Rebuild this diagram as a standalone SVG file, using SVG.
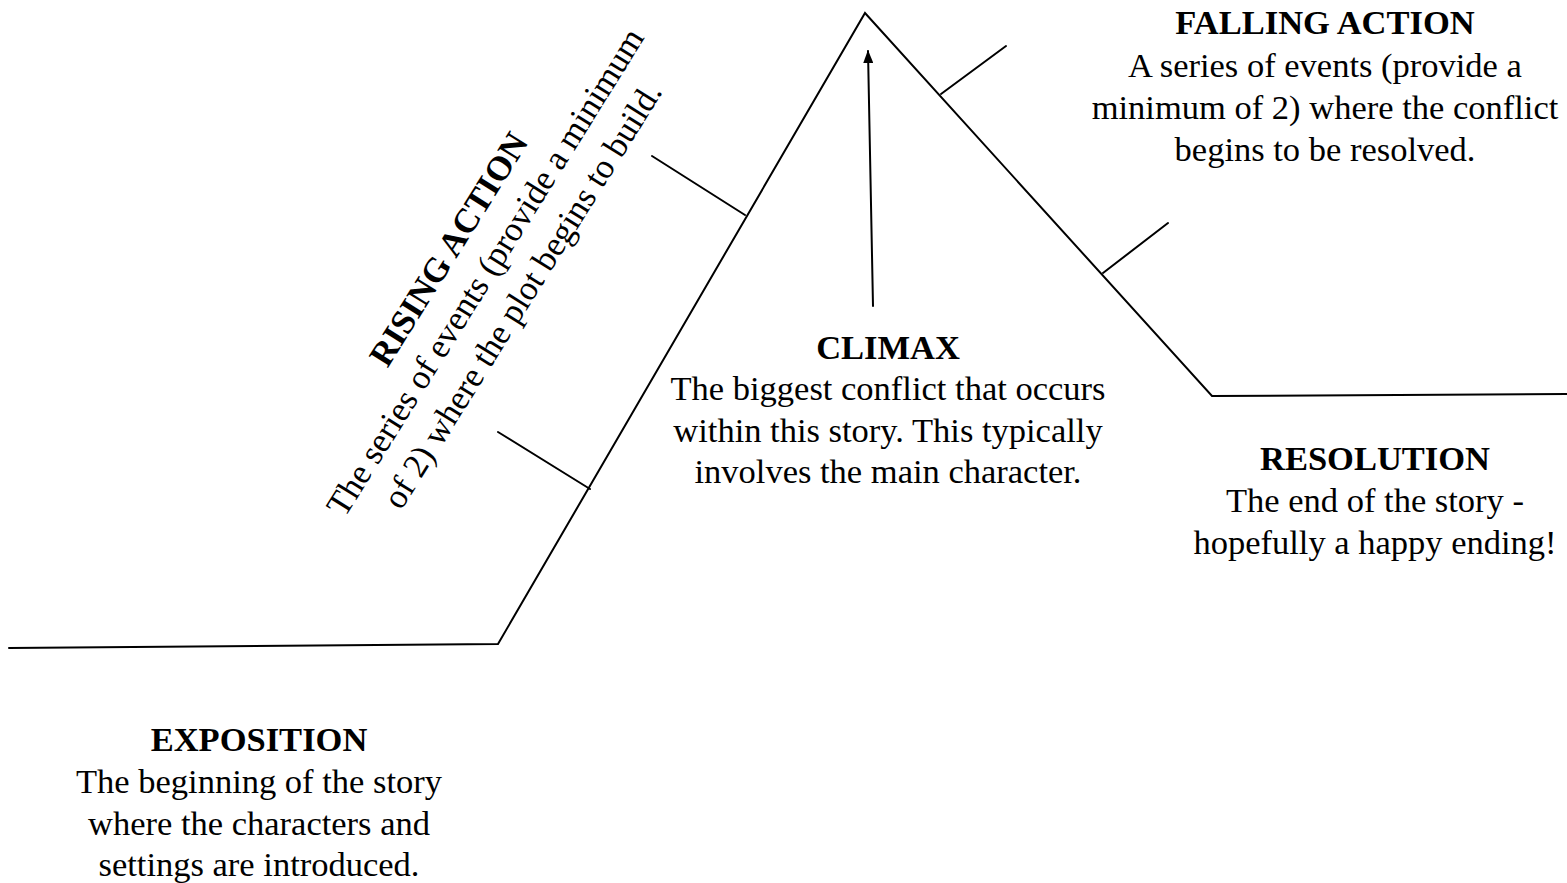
<svg xmlns="http://www.w3.org/2000/svg" width="1567" height="883" viewBox="0 0 1567 883">
<style>
.ln{stroke:#000;stroke-width:2;fill:none;stroke-linecap:round;stroke-linejoin:miter}
text{font-family:"Liberation Serif","Times New Roman",serif;font-size:34.5px;fill:#000;text-anchor:middle}
.h{font-weight:bold}
</style>
<defs>
<marker id="ah" viewBox="0 0 13 10" refX="12" refY="5" markerWidth="6.5" markerHeight="5" orient="auto" markerUnits="strokeWidth">
<path d="M0,0 L13,5 L0,10 z" fill="#000"/>
</marker>
</defs>
<rect width="1567" height="883" fill="#fff"/>
<g id="connectors">
<polyline class="ln" points="9,648 498,644 865,13 1212,396 1567,394"/>
<line class="ln" x1="498" y1="432" x2="590" y2="489"/>
<line class="ln" x1="652" y1="156" x2="745" y2="215"/>
<line class="ln" x1="941" y1="94" x2="1006" y2="46"/>
<line class="ln" x1="1103" y1="273" x2="1168" y2="223"/>
<line class="ln" x1="873" y1="306" x2="868" y2="51" marker-end="url(#ah)"/>
</g>
<g id="exposition">
<text class="h" x="259" y="751">EXPOSITION</text>
<text x="259" y="793">The beginning of the story</text>
<text x="259" y="835">where the characters and</text>
<text x="259" y="876">settings are introduced.</text>
</g>
<g id="rising-action" transform="translate(485,272) rotate(-58)">
<text class="h" x="0" y="-31.5">RISING ACTION</text>
<text x="0" y="11.5">The series of events (provide a minimum</text>
<text x="0" y="55.5">of 2) where the plot begins to build.</text>
</g>
<g id="climax">
<text class="h" x="888" y="359">CLIMAX</text>
<text x="888" y="400">The biggest conflict that occurs</text>
<text x="888" y="442">within this story. This typically</text>
<text x="888" y="483">involves the main character.</text>
</g>
<g id="falling-action">
<text class="h" x="1325" y="34">FALLING ACTION</text>
<text x="1325" y="77">A series of events (provide a</text>
<text x="1325" y="119">minimum of 2) where the conflict</text>
<text x="1325" y="161">begins to be resolved.</text>
</g>
<g id="resolution">
<text class="h" x="1375" y="470">RESOLUTION</text>
<text x="1375" y="512">The end of the story -</text>
<text x="1375" y="554">hopefully a happy ending!</text>
</g>
</svg>
